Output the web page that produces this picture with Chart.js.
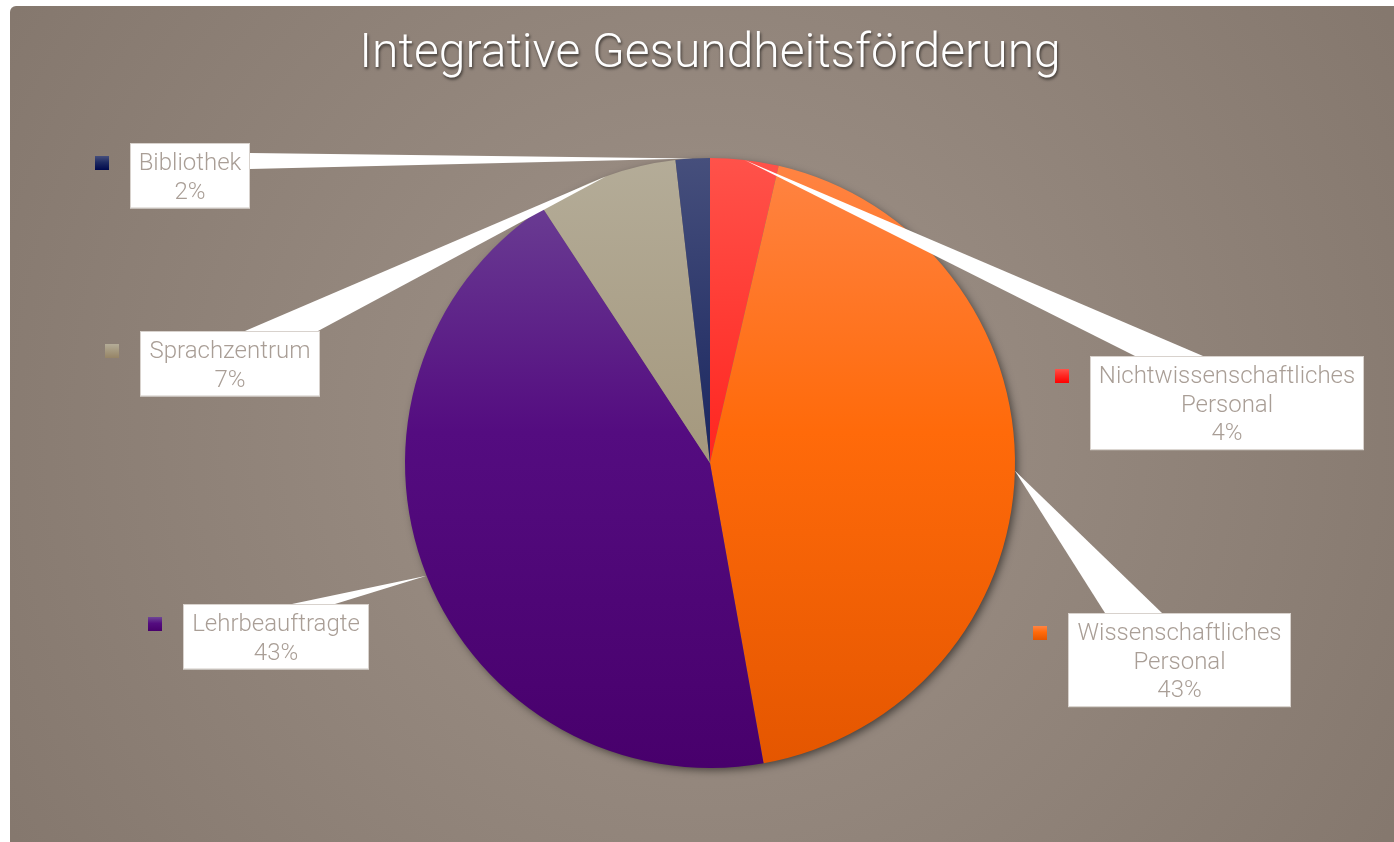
<!DOCTYPE html>
<html>
<head>
<meta charset="utf-8">
<title>Integrative Gesundheitsförderung</title>
<script src="https://cdn.jsdelivr.net/npm/chart.js@4.4.0/dist/chart.umd.min.js"></script>
<style>
    html, body { margin: 0; padding: 0; background: #fff; }
    #wrap { position: absolute; left: 10px; top: 6px; width: 1384px; height: 836px; }
</style>
</head>
<body>
<div id="wrap"><canvas id="pieChart"></canvas></div>
<script>
// Daten (Anteile in %)
const chartTitle = 'Integrative Gesundheitsförderung';
const categories = ['Nichtwissenschaftliches Personal', 'Wissenschaftliches Personal', 'Lehrbeauftragte', 'Sprachzentrum', 'Bibliothek'];
const shares = [3.6, 43.4, 43.4, 7.4, 1.8];

// Farben (oben -> Mitte -> unten Verlauf)
const topColors = ['#ff524a', '#ff8444', '#6e4696', '#b4ac98', '#464f7c'];
const midColors = ['#ff2a24', '#ff6a0a', '#540c80', '#a69a80', '#1e2a62'];
const bottomColors = ['#ff0000', '#e45600', '#48006c', '#968466', '#00094c'];

// Beschriftungskästen (Canvas-Koordinaten)
const labelBoxes = [
    { lines: ['Nichtwissenschaftliches', 'Personal'], x: 1080, y: 350, w: 274, base: [[1125, 350], [1193, 350]] },
    { lines: ['Wissenschaftliches', 'Personal'], x: 1058, y: 607, w: 223, base: [[1095, 607], [1152, 607]] },
    { lines: ['Lehrbeauftragte'], x: 173, y: 598, w: 186, base: [[282, 598], [325, 598]] },
    { lines: ['Sprachzentrum'], x: 130, y: 325, w: 180, base: [[235, 325], [308, 325]] },
    { lines: ['Bibliothek'], x: 120, y: 137, w: 120, base: [[240, 147], [240, 163]] }
];

const LINE_H = 28.7;

function sliceGradient(ctx, i, top, bottom) {
    const g = ctx.createLinearGradient(0, top, 0, bottom);
    g.addColorStop(0, topColors[i]);
    g.addColorStop(0.45, midColors[i]);
    g.addColorStop(1, bottomColors[i]);
    return g;
}

// Hintergrund, Titel und Schatten
const backgroundPlugin = {
    id: 'background',
    beforeDraw(chart) {
        const { ctx, width, height } = chart;
        ctx.save();
        const g = ctx.createRadialGradient(690, 420, 0, 690, 420, 800);
        g.addColorStop(0, '#a09389');
        g.addColorStop(1, '#85786e');
        ctx.fillStyle = g;
        ctx.beginPath();
        ctx.roundRect(0, 0, width, height, [6, 0, 0, 0]);
        ctx.fill();

        ctx.font = '300 48px Roboto';
        ctx.textAlign = 'center';
        ctx.textBaseline = 'middle';
        ctx.shadowColor = 'rgba(0,0,0,0.6)';
        ctx.shadowBlur = 3;
        ctx.shadowOffsetX = 1;
        ctx.shadowOffsetY = 2;
        ctx.fillStyle = '#ffffff';
        ctx.fillText(chartTitle, 700, 49);
        ctx.restore();
    },
    beforeDatasetsDraw(chart) {
        const arc = chart.getDatasetMeta(0).data[0];
        if (!arc) return;
        const { ctx } = chart;
        ctx.save();
        ctx.shadowColor = 'rgba(0,0,0,0.55)';
        ctx.shadowBlur = 8;
        ctx.shadowOffsetX = 3;
        ctx.shadowOffsetY = 3;
        ctx.fillStyle = '#7d6f66';
        ctx.beginPath();
        ctx.arc(arc.x, arc.y, arc.outerRadius - 1, 0, Math.PI * 2);
        ctx.fill();
        ctx.restore();
    }
};

// Beschriftungen mit Zeigern
const calloutPlugin = {
    id: 'callouts',
    afterDatasetsDraw(chart) {
        const { ctx } = chart;
        const meta = chart.getDatasetMeta(0);
        ctx.save();
        meta.data.forEach((arc, i) => {
            const box = labelBoxes[i];
            const mid = (arc.startAngle + arc.endAngle) / 2;
            const tipX = arc.x + Math.cos(mid) * arc.outerRadius;
            const tipY = arc.y + Math.sin(mid) * arc.outerRadius;

            // Zeiger
            ctx.fillStyle = '#ffffff';
            ctx.beginPath();
            ctx.moveTo(box.base[0][0], box.base[0][1]);
            ctx.lineTo(box.base[1][0], box.base[1][1]);
            ctx.lineTo(tipX, tipY);
            ctx.closePath();
            ctx.fill();

            // Kasten
            const lines = box.lines.concat([Math.round(shares[i]) + '%']);
            const h = lines.length * LINE_H + 8;
            ctx.fillStyle = '#ffffff';
            ctx.fillRect(box.x, box.y, box.w, h);
            ctx.strokeStyle = '#d8d2cd';
            ctx.lineWidth = 1;
            ctx.strokeRect(box.x + 0.5, box.y + 0.5, box.w - 1, h - 1);

            ctx.font = '300 24px Roboto';
            ctx.textAlign = 'center';
            ctx.textBaseline = 'middle';
            ctx.fillStyle = '#a99e96';
            lines.forEach((t, j) => {
                ctx.fillText(t, box.x + box.w / 2, box.y + 21 + j * LINE_H);
            });

            // Legendenquadrat
            const my = box.y + 20;
            ctx.fillStyle = sliceGradient(ctx, i, my - 7, my + 7);
            ctx.fillRect(box.x - 35, my - 7, 14, 14);
        });
        ctx.restore();
    }
};

const ctx = document.getElementById('pieChart').getContext('2d');

new Chart(ctx, {
    type: 'pie',
    data: {
        labels: categories,
        datasets: [{
            data: shares,
            backgroundColor: (c) => {
                const area = c.chart.chartArea;
                if (!area) return topColors[c.dataIndex];
                return sliceGradient(c.chart.ctx, c.dataIndex, area.top, area.bottom);
            },
            borderWidth: 0,
            hoverOffset: 0
        }]
    },
    options: {
        responsive: true,
        maintainAspectRatio: false,
        animation: false,
        layout: {
            padding: { top: 152, bottom: 74, left: 395, right: 379 }
        },
        plugins: {
            legend: { display: false },
            tooltip: { enabled: false },
            title: { display: false }
        }
    },
    plugins: [backgroundPlugin, calloutPlugin]
});
</script>
</body>
</html>
